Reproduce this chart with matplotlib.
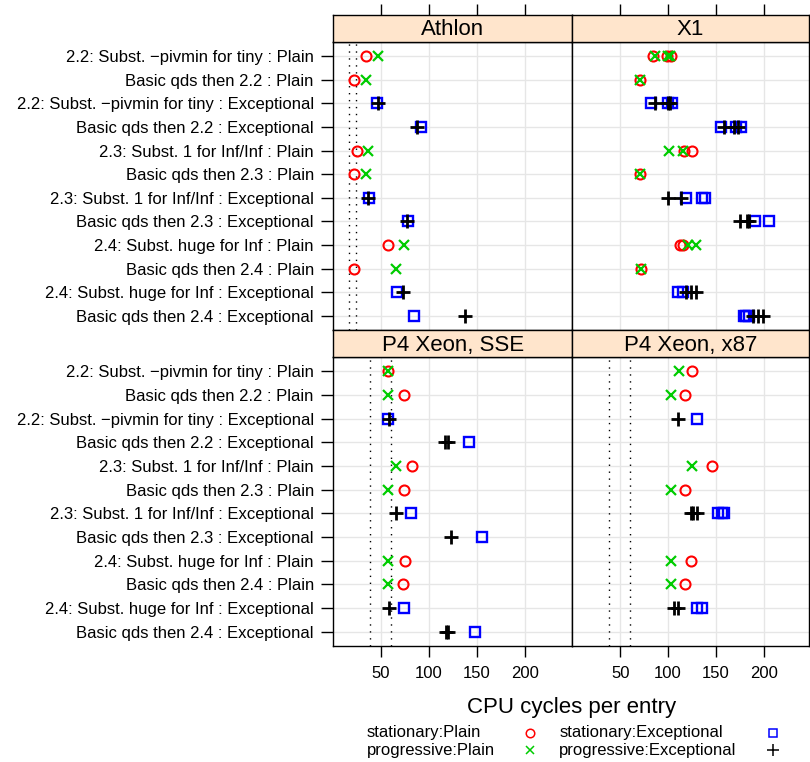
"""
Dot plot of CPU cycles per entry for the qds variants, four machines.
"""

import matplotlib
matplotlib.use("Agg")
import matplotlib.pyplot as plt
from matplotlib.lines import Line2D

ROW_LABELS = [
    "2.2: Subst. \u2212pivmin for tiny : Plain",
    "Basic qds then 2.2 : Plain",
    "2.2: Subst. \u2212pivmin for tiny : Exceptional",
    "Basic qds then 2.2 : Exceptional",
    "2.3: Subst. 1 for Inf/Inf : Plain",
    "Basic qds then 2.3 : Plain",
    "2.3: Subst. 1 for Inf/Inf : Exceptional",
    "Basic qds then 2.3 : Exceptional",
    "2.4: Subst. huge for Inf : Plain",
    "Basic qds then 2.4 : Plain",
    "2.4: Subst. huge for Inf : Exceptional",
    "Basic qds then 2.4 : Exceptional",
]
ROW_KIND = ["Plain", "Plain", "Exceptional", "Exceptional"] * 3

PANELS = ["Athlon", "X1", "P4 Xeon, SSE", "P4 Xeon, x87"]
TICKS = [50, 100, 150, 200]

# cycles per entry, one list per row (several runs where dots split)
ATHLON_STAT = [[34], [22], [46], [92], [24.5], [22], [37], [78], [57], [22], [67], [84]]
ATHLON_PROG = [[46.5], [34], [46.5], [88], [36.5], [34], [36], [77], [73.5], [65.5], [73], [138]]

X1_STAT = [[84, 99, 103], [70.4], [82.6, 100, 104.5], [155, 171, 176], [117, 125],
           [70.4], [119, 136, 139], [191, 206], [112, 116], [71.5], [110, 116],
           [179, 182, 185]]
X1_PROG = [[86, 100, 102], [70.4], [86, 100, 102.4], [159, 169, 173], [101, 116],
           [70.4], [100, 114], [175, 183, 185], [121, 129], [71.5], [119, 124, 129],
           [189, 194, 199]]

SSE_STAT = [[57.5], [74], [56.8], [142], [82], [74], [81.2], [155.5], [74.7], [73.3], [74.3], [148.6]]
SSE_PROG = [[57.5], [57.5], [58.6], [117, 120.3], [65.5], [57.5], [65.5], [123], [57.5], [57.5],
            [58.2], [117.5, 119.6]]

X87_STAT = [[125], [117.4], [130.7], [], [146], [117.4], [152, 156, 159], [], [124.4], [117.4],
            [130, 136], []]
X87_PROG = [[111.2], [103.5], [110.5], [], [125], [103.5], [124, 126, 130], [], [103.5], [103.5],
            [106, 110.5], []]

# dotted reference lines
ATHLON_REF = [16, 23.5]
X1_REF = []
P4_REF = [38, 60]

STYLE = {
    ("stationary", "Plain"): dict(marker="o", color="#FF0000", ms=7.2, mew=1.5),
    ("progressive", "Plain"): dict(marker="x", color="#00CC00", ms=7.4, mew=1.6),
    ("stationary", "Exceptional"): dict(marker="s", color="#0000FF", ms=7.0, mew=1.7),
    ("progressive", "Exceptional"): dict(marker="+", color="black", ms=10.5, mew=2.0),
}

W, H = 810, 762
GRID = "#E6E6E6"
STRIP = "#FFE5CC"
FONT = ["Liberation Sans", "DejaVu Sans"]


def box(x0, y0, x1, y1):
    return [x0 / W, 1 - y1 / H, (x1 - x0) / W, (y1 - y0) / H]


def draw_panel(ax, stat, prog, refs, xmax, left, bottom):
    ax.set_xlim(0, xmax)
    ax.set_ylim(12.6, 0.4)
    for t in TICKS:
        ax.axvline(t, color=GRID, lw=1.0, zorder=0)
    for r in range(1, 13):
        ax.axhline(r, color=GRID, lw=1.0, zorder=0)
    for v in refs:
        ax.axvline(v, color="black", lw=1.0, ls=(0, (1, 4)), zorder=1)
    for series, data in (("stationary", stat), ("progressive", prog)):
        for i, vals in enumerate(data):
            st = STYLE[(series, ROW_KIND[i])]
            for v in vals:
                ax.plot([v], [i + 1], ls="none", marker=st["marker"], ms=st["ms"],
                        mec=st["color"], mfc="none", mew=st["mew"], zorder=3)
    ax.set_xticks(TICKS)
    if bottom:
        ax.tick_params(axis="x", direction="out", length=7.7, width=1, pad=7, labelsize=12)
    else:
        ax.tick_params(axis="x", length=0, labelbottom=False)
    ax.set_yticks(range(1, 13))
    if left:
        ax.set_yticklabels(ROW_LABELS)
        ax.tick_params(axis="y", direction="out", length=9, width=1, pad=5, labelsize=12)
    else:
        ax.tick_params(axis="y", length=0, labelleft=False)
    for s in ax.spines.values():
        s.set_linewidth(1.0)


def draw_strip(ax, title, xmax, top_ticks):
    ax.set_facecolor(STRIP)
    ax.set_xlim(0, xmax)
    ax.set_yticks([])
    ax.text(0.5, 0.45, title, transform=ax.transAxes, ha="center", va="center",
            fontsize=16)
    if top_ticks:
        ax.set_xticks(TICKS)
        ax.tick_params(axis="x", bottom=False, top=True, labelbottom=False,
                       direction="out", length=7.7, width=1)
    else:
        ax.set_xticks([])
    for s in ax.spines.values():
        s.set_linewidth(1.0)


def draw_legend(fig):
    entries = [
        (366.7, 530.0, 732.7, "stationary:Plain", ("stationary", "Plain")),
        (366.7, 530.0, 750.0, "progressive:Plain", ("progressive", "Plain")),
        (559.3, 772.7, 732.7, "stationary:Exceptional", ("stationary", "Exceptional")),
        (559.3, 772.7, 750.0, "progressive:Exceptional", ("progressive", "Exceptional")),
    ]
    for tx, mx, y, label, key in entries:
        fig.text(tx / W, 1 - y / H, label, ha="left", va="center", fontsize=12)
        st = STYLE[key]
        fig.add_artist(Line2D([mx / W], [1 - y / H], transform=fig.transFigure,
                              ls="none", marker=st["marker"], mec=st["color"],
                              mfc="none", ms=st["ms"] * 0.85, mew=1.1))


def main():
    plt.rcParams["font.family"] = FONT
    fig = plt.figure(figsize=(W / 100, H / 100), dpi=100)

    cols = [(333.3, 572.4, 250.0), (572.4, 808.5, 246.9)]
    rows = [((14.7, 42.0), (42.0, 330.0)), ((330.0, 357.3), (357.3, 646.0))]
    data = [
        (ATHLON_STAT, ATHLON_PROG, ATHLON_REF),
        (X1_STAT, X1_PROG, X1_REF),
        (SSE_STAT, SSE_PROG, P4_REF),
        (X87_STAT, X87_PROG, P4_REF),
    ]
    for k, title in enumerate(PANELS):
        r, c = divmod(k, 2)
        x0, x1, xmax = cols[c]
        (sy0, sy1), (py0, py1) = rows[r]
        ax = fig.add_axes(box(x0, py0, x1, py1))
        stat, prog, refs = data[k]
        draw_panel(ax, stat, prog, refs, xmax, left=(c == 0), bottom=(r == 1))
        sax = fig.add_axes(box(x0, sy0, x1, sy1))
        draw_strip(sax, title, xmax, top_ticks=(r == 0))

    fig.text(572 / W, 1 - 708 / H, "CPU cycles per entry", ha="center", va="center",
             fontsize=16)
    draw_legend(fig)
    fig.savefig("out.png", dpi=100)
    plt.close(fig)


if __name__ == "__main__":
    main()
